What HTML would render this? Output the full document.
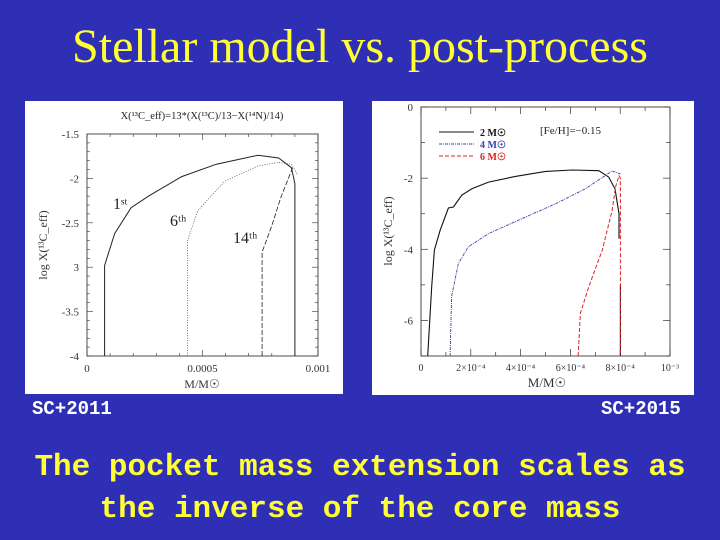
<!DOCTYPE html>
<html><head><meta charset="utf-8"><style>
body{margin:0;width:720px;height:540px;background:#2f2fb6;overflow:hidden;position:relative;font-family:"Liberation Sans",sans-serif}
.t{position:absolute;left:0;width:720px;text-align:center;color:#ffff33}
</style></head><body>
<div class="t" style="top:20px;font-family:'Liberation Serif',serif;font-size:48px;line-height:54px">Stellar model vs. post-process</div>
<svg id="c1" style="position:absolute;left:25px;top:101px" width="318" height="293"></svg>
<svg id="c2" style="position:absolute;left:372px;top:101px" width="322" height="294"></svg>
<div style="position:absolute;left:32px;top:398px;color:#fff;font:bold 19px 'Liberation Mono',monospace">SC+2011</div>
<div style="position:absolute;left:601px;top:398px;color:#fff;font:bold 19px 'Liberation Mono',monospace">SC+2015</div>
<div class="t" style="top:447px;font:bold 31px/42px 'Liberation Mono',monospace">The pocket mass extension scales as<br>the inverse of the core mass</div>
<script>
// Chart 1 data (x in 1e-4 Msun, y = log X)
const c1Ticks=[-4,-3.5,-3,-2.5,-2,-1.5];
const c1TickLabels=["-4","-3.5","3","-2.5","-2","-1.5"];
const c1XTicks=[0,5,10];
const c1XLabels=["0","0.0005","0.001"];
const s1x=[0.76,0.76,1.2,1.91,2.66,4.1,5.6,7.4,8.3,8.85,9.0,9.0];
const s1y=[-4,-2.98,-2.62,-2.33,-2.2,-1.98,-1.84,-1.74,-1.77,-1.88,-2.06,-4];
const s6x=[4.35,4.35,4.8,5.97,7.4,8.27,8.85,9.1];
const s6y=[-4,-2.7,-2.36,-2.03,-1.86,-1.82,-1.84,-1.95];
const s14x=[7.58,7.58,7.98,8.4,8.9];
const s14y=[-4,-2.83,-2.55,-2.21,-1.88];
// Chart 2 data
const c2YTicks=[-6,-4,-2,0];
const c2XTicks=[0,2,4,6,8,10];
const c2XLabels=["0","2×10⁻⁴","4×10⁻⁴","6×10⁻⁴","8×10⁻⁴","10⁻³"];
const m2x=[0.27,0.43,0.54,0.77,1.1,1.3,1.64,2.04,2.71,3.79,5.0,6.07,7.14,7.54,7.79,7.95,7.95];
const m2y=[-7,-5.05,-4.02,-3.46,-2.84,-2.81,-2.48,-2.3,-2.11,-1.95,-1.81,-1.77,-1.79,-1.97,-2.3,-3.0,-3.7];
const m2dropX=[8.01,8.01];
const m2dropY=[-5.0,-7];
const m4x=[1.17,1.23,1.5,1.9,2.71,4.05,5.4,6.6,7.68,8.01];
const m4y=[-7,-5.33,-4.4,-3.93,-3.56,-3.14,-2.72,-2.3,-1.8,-1.88];
const m6x=[6.31,6.4,6.74,7.28,7.68,7.81,7.95,8.01,8.01];
const m6y=[-7,-5.8,-5.05,-4.02,-2.9,-2.25,-1.93,-2.0,-7];

const NS="http://www.w3.org/2000/svg";
function mk(svg,tag,attrs,txt){const e=document.createElementNS(NS,tag);for(const k in attrs)e.setAttribute(k,attrs[k]);if(txt!=null)e.textContent=txt;svg.appendChild(e);return e;}
function line(svg,sx,sy,xs,ys,st,name){let d=xs.map((x,i)=>(i?'L':'M')+sx(x).toFixed(1)+','+sy(ys[i]).toFixed(1)).join('');const p=mk(svg,'path',Object.assign({d:d,fill:'none'},st));

}

// chart 1
(function(){const s=document.getElementById('c1');
mk(s,'rect',{x:0,y:0,width:318,height:293,fill:'#fff'});
const L=62,R=293,T=33,B=255;
const sx=v=>L+(R-L)*v/10, sy=v=>T+(B-T)*(-1.5-v)/2.5;
mk(s,'rect',{x:L,y:T,width:R-L,height:B-T,fill:'none',stroke:'#222','stroke-width':0.8});
for(let v=-4;v<=-1.5;v+=0.1){const y=sy(v),big=Math.abs(v*2-Math.round(v*2))<0.01;mk(s,'line',{x1:L,x2:L+(big?6:3),y1:y,y2:y,stroke:'#333','stroke-width':0.6});mk(s,'line',{x1:R,x2:R-(big?6:3),y1:y,y2:y,stroke:'#333','stroke-width':0.6});}
for(let v=0;v<=10;v+=1){const x=sx(v);mk(s,'line',{x1:x,x2:x,y1:B,y2:B-(v%5?3:6),stroke:'#333','stroke-width':0.6});mk(s,'line',{x1:x,x2:x,y1:T,y2:T+(v%5?3:6),stroke:'#333','stroke-width':0.6});}
c1Ticks.forEach((v,i)=>{const t=mk(s,'text',{x:L-8,y:sy(v)+4,'text-anchor':'end','font-size':11,fill:'#333','font-family':'Liberation Serif,serif'},c1TickLabels[i]);

});
c1XTicks.forEach((v,i)=>{const t=mk(s,'text',{x:sx(v),y:B+16,'text-anchor':'middle','font-size':11,fill:'#333','font-family':'Liberation Serif,serif'},c1XLabels[i]);

});
mk(s,'text',{x:177,y:18,'text-anchor':'middle','font-size':10.5,fill:'#222','font-family':'Liberation Serif,serif'},'X(¹³C_eff)=13*(X(¹³C)/13−X(¹⁴N)/14)');
mk(s,'text',{x:177,y:287,'text-anchor':'middle','font-size':12,fill:'#333','font-family':'Liberation Serif,serif'},'M/M☉');
mk(s,'text',{x:22,y:144,'text-anchor':'middle','font-size':12,fill:'#333','font-family':'Liberation Serif,serif',transform:'rotate(-90 22 144)'},'log X(¹³C_eff)');
line(s,sx,sy,s1x,s1y,{stroke:'#222','stroke-width':1},'series-1st');
line(s,sx,sy,s6x,s6y,{stroke:'#555','stroke-width':0.8,'stroke-dasharray':'1 1.5'},'series-6th');
line(s,sx,sy,s14x,s14y,{stroke:'#222','stroke-width':0.8,'stroke-dasharray':'5 2'},'series-14th');
mk(s,'text',{x:88,y:108,'font-size':16,fill:'#222','font-family':'Liberation Serif,serif'},'1ˢᵗ');
mk(s,'text',{x:145,y:125,'font-size':16,fill:'#222','font-family':'Liberation Serif,serif'},'6ᵗʰ');
mk(s,'text',{x:208,y:142,'font-size':16,fill:'#222','font-family':'Liberation Serif,serif'},'14ᵗʰ');
})();

// chart 2
(function(){const s=document.getElementById('c2');
mk(s,'rect',{x:0,y:0,width:322,height:294,fill:'#fff'});
const L=49,R=298,T=6,B=255;
const sx=v=>L+(R-L)*v/10, sy=v=>T+(B-T)*(-v)/7;
mk(s,'rect',{x:L,y:T,width:R-L,height:B-T,fill:'none',stroke:'#222','stroke-width':0.8});
for(let v=-7;v<=0;v+=1){const y=sy(v),big=v%2==0;mk(s,'line',{x1:L,x2:L+(big?7:4),y1:y,y2:y,stroke:'#333','stroke-width':0.7});mk(s,'line',{x1:R,x2:R-(big?7:4),y1:y,y2:y,stroke:'#333','stroke-width':0.7});}
for(let v=0;v<=10;v+=1){const x=sx(v);mk(s,'line',{x1:x,x2:x,y1:B,y2:B-(v%2?4:7),stroke:'#333','stroke-width':0.7});mk(s,'line',{x1:x,x2:x,y1:T,y2:T+(v%2?4:7),stroke:'#333','stroke-width':0.7});}
c2YTicks.forEach(v=>{const t=mk(s,'text',{x:L-8,y:sy(v)+4,'text-anchor':'end','font-size':11,fill:'#333','font-family':'Liberation Serif,serif'},String(v));

});
c2XTicks.forEach((v,i)=>{const t=mk(s,'text',{x:sx(v),y:B+15,'text-anchor':'middle','font-size':10,fill:'#333','font-family':'Liberation Serif,serif'},c2XLabels[i]);

});
mk(s,'text',{x:175,y:286,'text-anchor':'middle','font-size':13,fill:'#333','font-family':'Liberation Serif,serif'},'M/M☉');
mk(s,'text',{x:20,y:130,'text-anchor':'middle','font-size':12,fill:'#333','font-family':'Liberation Serif,serif',transform:'rotate(-90 20 130)'},'log X(¹³C_eff)');
line(s,sx,sy,m2x,m2y,{stroke:'#111','stroke-width':1.1},'series-2msun');
line(s,sx,sy,m2dropX,m2dropY,{stroke:'#111','stroke-width':1.1},'series-2msun-drop');
line(s,sx,sy,m4x,m4y,{stroke:'#3344aa','stroke-width':0.9,'stroke-dasharray':'3 1 1 1'},'series-4msun');
line(s,sx,sy,m6x,m6y,{stroke:'#dd2222','stroke-width':1,'stroke-dasharray':'4 2'},'series-6msun');
const lg=[['2 M☉','#111',''],['4 M☉','#3344aa','3 1 1 1'],['6 M☉','#dd2222','4 2']];
lg.forEach((e,i)=>{const y=31+i*12;mk(s,'line',{x1:67,x2:102,y1:y,y2:y,stroke:e[1],'stroke-width':1,'stroke-dasharray':e[2]});const t=mk(s,'text',{x:108,y:y+4,'font-size':10,fill:e[1],'font-weight':'bold','font-family':'Liberation Serif,serif'},e[0]);

});
mk(s,'text',{x:168,y:33,'font-size':11,fill:'#222','font-family':'Liberation Serif,serif'},'[Fe/H]=−0.15');
})();
</script>
</body></html>
